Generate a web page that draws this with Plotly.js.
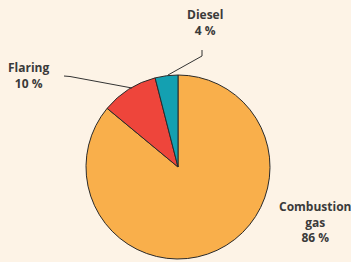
<!DOCTYPE html>
<html><head><meta charset="utf-8">
<script src="https://cdn.plot.ly/plotly-3.0.1.min.js"></script>
<style>html,body{margin:0;padding:0;background:#fdf3e6;}#c{width:351px;height:262px;}</style>
</head><body><div id="c"></div>
<script>
const categories = ["Combustion gas", "Flaring", "Diesel"];
const labelText = ["Combustion<br>gas", "Flaring", "Diesel"];
const values = [86, 10, 4];
const colors = ["#f9af4b", "#ee453b", "#14a0b1"];

const W = 351, H = 262;
const px = x => x / W, py = y => 1 - y / H;
const fnt = {family: "Open Sans, sans-serif", size: 12, color: "#3a3a3a", weight: 700};

const labelPos = [[315, 222], [28, 75], [205, 22]];
const annotations = categories.map((c, i) => ({
  x: px(labelPos[i][0]), y: py(labelPos[i][1]), xref: "paper", yref: "paper",
  text: "<b>" + labelText[i] + "<br>" + values[i] + " %</b>", showarrow: false,
  font: fnt, align: "center", xanchor: "center", yanchor: "middle"
}));

const shapes = [
  {type: "path", xref: "paper", yref: "paper",
   path: `M ${px(202)} ${py(50)} L ${px(202)} ${py(56)} L ${px(168)} ${py(75)}`,
   line: {color: "#333", width: 1}},
  {type: "path", xref: "paper", yref: "paper",
   path: `M ${px(64)} ${py(76)} L ${px(70)} ${py(76.5)} L ${px(132)} ${py(88)}`,
   line: {color: "#333", width: 1}}
];

Plotly.newPlot("c", [{
  type: "pie", labels: categories, values: values, sort: false,
  direction: "clockwise", rotation: 0,
  marker: {colors: colors, line: {color: "#2a2a2a", width: 1}},
  textinfo: "none", hoverinfo: "none",
  domain: {x: [px(86), px(270)], y: [py(259), py(75)]}
}], {
  width: W, height: H, margin: {l: 0, r: 0, t: 0, b: 0},
  paper_bgcolor: "#fdf3e6", plot_bgcolor: "#fdf3e6",
  showlegend: false, annotations: annotations, shapes: shapes
}, {staticPlot: true, displayModeBar: false});
</script></body></html>
